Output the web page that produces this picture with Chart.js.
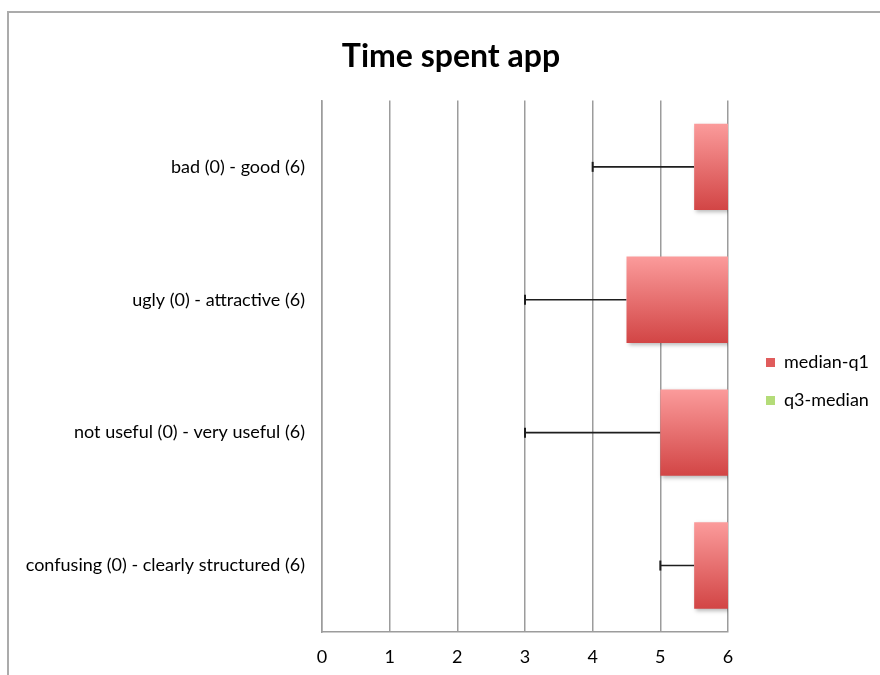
<!DOCTYPE html>
<html>
<head>
<meta charset="utf-8">
<script src="https://cdn.jsdelivr.net/npm/chart.js@4.4.1/dist/chart.umd.min.js"></script>
<style>
  html, body { margin: 0; padding: 0; background: #fff; }
  #wrap { position: relative; width: 880px; height: 675px; overflow: hidden; }
  #frame { position: absolute; left: 7px; top: 11px; width: 900px; height: 700px;
           border-top: 2px solid #ababab; border-left: 2px solid #ababab; }
  canvas { position: absolute; left: 0; top: 0; }
</style>
</head>
<body>
<div id="wrap">
  <div id="frame"></div>
  <canvas id="chart" width="880" height="675"></canvas>
</div>
<script>
// data
const categories = [
  'bad (0) - good (6)',
  'ugly (0) - attractive (6)',
  'not useful (0) - very useful (6)',
  'confusing (0) - clearly structured (6)'
];
const minVals = [4, 3, 3, 5];
const q1Vals = [5.5, 4.5, 5, 5.5];
const medianMinusQ1 = [0.5, 1.5, 1, 0.5];
const q3MinusMedian = [0, 0, 0, 0];
const xTicks = [0, 1, 2, 3, 4, 5, 6];

const FONT = 'Lato, "Open Sans", sans-serif';
const BAR_PCT = 0.65;

// vertical gradient per bar, from the category's pixel band
function redFill(context) {
  const chart = context.chart;
  const y = chart.scales.y;
  if (!y || !chart.chartArea) return '#e06060';
  const yc = y.getPixelForValue(context.dataIndex);
  const h = (chart.chartArea.bottom - chart.chartArea.top) / categories.length * BAR_PCT;
  if (!isFinite(yc) || !isFinite(h)) return '#e06060';
  const g = chart.ctx.createLinearGradient(0, yc - h / 2, 0, yc + h / 2);
  g.addColorStop(0, '#fb9b9b');
  g.addColorStop(1, '#d24545');
  return g;
}

// shadow under the red boxes
const shadowPlugin = {
  id: 'boxShadow',
  beforeDatasetDraw(chart, args) {
    if (args.index !== 1) return;
    const ctx = chart.ctx;
    ctx.save();
    ctx.shadowColor = 'rgba(0,0,0,0.28)';
    ctx.shadowBlur = 4;
    ctx.shadowOffsetX = 2;
    ctx.shadowOffsetY = 2;
  },
  afterDatasetDraw(chart, args) {
    if (args.index !== 1) return;
    chart.ctx.restore();
  }
};

// whisker from min to q1
const whiskerPlugin = {
  id: 'whiskers',
  beforeDatasetsDraw(chart) {
    const ctx = chart.ctx;
    const x = chart.scales.x, y = chart.scales.y;
    ctx.save();
    ctx.strokeStyle = '#1e1e1e';
    categories.forEach((c, i) => {
      const yp = y.getPixelForValue(i);
      const x0 = x.getPixelForValue(minVals[i]);
      const x1 = x.getPixelForValue(q1Vals[i]);
      ctx.lineWidth = 1.6;
      ctx.beginPath();
      ctx.moveTo(x0, yp);
      ctx.lineTo(x1, yp);
      ctx.stroke();
      ctx.lineWidth = 2;
      ctx.beginPath();
      ctx.moveTo(x0, yp - 5);
      ctx.lineTo(x0, yp + 5);
      ctx.stroke();
    });
    ctx.restore();
  }
};

// fix legend width, then nudge it to sit where the reference has it
const legendPlacePlugin = {
  id: 'legendPlace',
  beforeLayout(chart) {
    const lg = chart.legend;
    if (lg && !lg._patched) {
      const fit = lg.fit.bind(lg);
      lg.fit = function () { fit(); this.width = 152; };
      lg._patched = true;
    }
  },
  afterLayout(chart) {
    const lg = chart.legend;
    lg.left += 18; lg.right += 18;
    lg.top += 44; lg.bottom += 44;
  }
};

new Chart(document.getElementById('chart'), {
  type: 'bar',
  data: {
    labels: categories,
    datasets: [
      { label: 'base', data: q1Vals, backgroundColor: 'rgba(0,0,0,0)', stack: 's' },
      { label: 'median-q1', data: medianMinusQ1, backgroundColor: redFill, stack: 's' },
      { label: 'q3-median', data: q3MinusMedian, backgroundColor: '#b4dc78', stack: 's' }
    ]
  },
  options: {
    indexAxis: 'y',
    responsive: false,
    animation: false,
    events: [],
    categoryPercentage: 1,
    barPercentage: BAR_PCT,
    layout: { padding: { top: 0, left: 22, right: 0, bottom: 0 } },
    scales: {
      x: {
        stacked: true,
        min: 0, max: 6,
        afterBuildTicks(s) { s.ticks = xTicks.map(v => ({ value: v })); },
        afterFit(s) { s.height = 43; },
        grid: { color: '#9c9c9c', lineWidth: 1.5, drawTicks: false },
        border: { color: '#9c9c9c', width: 1.5 },
        ticks: { color: '#000', padding: 14, font: { family: FONT, size: 18 } }
      },
      y: {
        stacked: true,
        afterFit(s) { s.width = 300; },
        grid: { display: false, drawTicks: false },
        border: { color: '#9c9c9c', width: 1.5 },
        ticks: { color: '#000', padding: 17, font: { family: FONT, size: 18 } }
      }
    },
    plugins: {
      title: {
        display: true,
        text: 'Time spent app',
        color: '#000',
        font: { family: FONT, size: 32, weight: 'bold' },
        padding: { top: 37, bottom: 25 }
      },
      legend: {
        position: 'right',
        labels: {
          color: '#000',
          boxWidth: 9,
          boxHeight: 9,
          padding: 20,
          font: { family: FONT, size: 18 },
          generateLabels(chart) {
            const cols = ['#e05c5c', '#b4dc78'];
            return chart.data.datasets.slice(1).map((d, i) => ({
              text: d.label, fillStyle: cols[i],
              strokeStyle: 'rgba(0,0,0,0)', lineWidth: 0, datasetIndex: i + 1, hidden: false
            }));
          }
        }
      },
      tooltip: { enabled: false }
    }
  },
  plugins: [legendPlacePlugin, whiskerPlugin, shadowPlugin]
});
</script>
</body>
</html>
